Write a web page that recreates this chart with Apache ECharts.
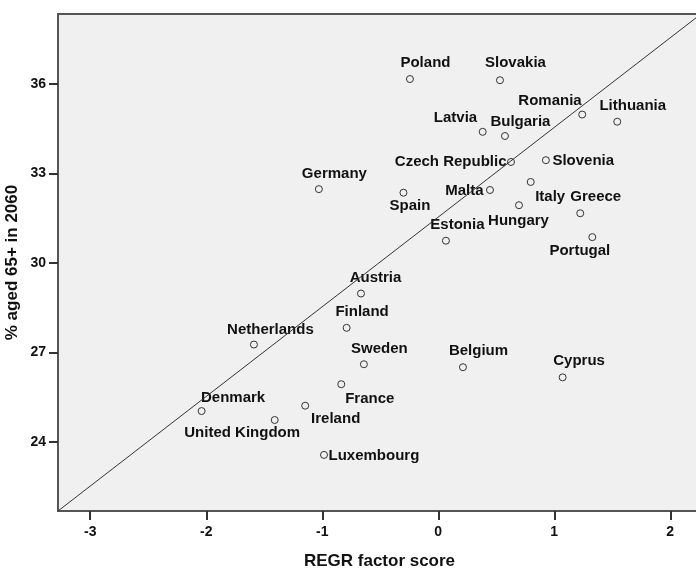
<!DOCTYPE html>
<html>
<head>
<meta charset="utf-8">
<script src="https://cdn.jsdelivr.net/npm/echarts@6/dist/echarts.min.js"></script>
<style>
  html, body { margin: 0; padding: 0; background: #fff; }
  #chart { width: 696px; height: 569px; }
</style>
</head>
<body>
<div id="chart"></div>
<script>
// EU member states: factor score vs projected share of population aged 65+ in 2060
const countries = [
  'Poland', 'Slovakia', 'Romania', 'Lithuania', 'Latvia', 'Bulgaria',
  'Czech Republic', 'Slovenia', 'Italy', 'Malta', 'Spain', 'Hungary',
  'Greece', 'Portugal', 'Estonia', 'Germany', 'Austria', 'Finland',
  'Netherlands', 'Sweden', 'Belgium', 'France', 'Ireland', 'Cyprus',
  'Denmark', 'United Kingdom', 'Luxembourg'
];
const factorScore = [
  -0.244, 0.532, 1.241, 1.543, 0.383, 0.575,
  0.627, 0.928, 0.797, 0.446, -0.300, 0.696,
  1.224, 1.328, 0.066, -1.029, -0.666, -0.790,
  -1.589, -0.641, 0.213, -0.836, -1.147, 1.072,
  -2.040, -1.410, -0.985
];
const aged65 = [
  36.16, 36.12, 34.97, 34.73, 34.39, 34.25,
  33.38, 33.44, 32.71, 32.44, 32.35, 31.93,
  31.66, 30.86, 30.74, 32.47, 28.97, 27.82,
  27.26, 26.60, 26.50, 25.93, 25.21, 26.16,
  25.03, 24.73, 23.56
];
const xTicks = [-3, -2, -1, 0, 1, 2];
const yTicks = [24, 27, 30, 33, 36];

// axis extents
const X_MIN = -3.278, X_MAX = 2.265;
const Y_MIN = 21.68, Y_MAX = 38.34;

// label placement around each marker: [align, dx, dy] from the marker centre
const labelPlacement = {
  'Poland': ['center', 16, -16],
  'Slovakia': ['center', 16, -17],
  'Romania': ['right', 0, -13],
  'Lithuania': ['center', 16, -15],
  'Latvia': ['right', -5, -13],
  'Bulgaria': ['center', 16, -14],
  'Czech Republic': ['right', -4, 0],
  'Slovenia': ['left', 7, 1],
  'Italy': ['center', 20, 15],
  'Malta': ['right', -6, 1],
  'Spain': ['center', 7, 14],
  'Hungary': ['center', 0, 16],
  'Greece': ['center', 16, -16],
  'Portugal': ['center', -12, 14],
  'Estonia': ['center', 12, -15],
  'Germany': ['center', 16, -15],
  'Austria': ['center', 15, -15],
  'Finland': ['center', 16, -15],
  'Netherlands': ['center', 17, -14],
  'Sweden': ['center', 16, -15],
  'Belgium': ['center', 16, -16],
  'France': ['center', 29, 15],
  'Ireland': ['center', 31, 14],
  'Cyprus': ['center', 17, -16],
  'Denmark': ['center', 32, -13],
  'United Kingdom': ['center', -32, 13],
  'Luxembourg': ['left', 5, 1]
};

const FONT = '"Liberation Sans", Arial, sans-serif';
const SYMBOL_SIZE = 7;

const points = countries.map((name, i) => {
  const p = labelPlacement[name];
  return {
    name: name,
    value: [factorScore[i], aged65[i]],
    label: {
      show: true,
      formatter: name,
      position: [SYMBOL_SIZE / 2 + p[1], SYMBOL_SIZE / 2 + p[2]],
      align: p[0],
      verticalAlign: 'middle'
    }
  };
});

const chart = echarts.init(document.getElementById('chart'), null, { renderer: 'canvas' });

chart.setOption({
  backgroundColor: '#ffffff',
  animation: false,
  grid: {
    left: 58, top: 14, right: -5, bottom: 58,
    outerBoundsMode: 'none',
    containLabel: false,
    show: true,
    backgroundColor: '#f0f0f0',
    borderColor: '#555555',
    borderWidth: 2
  },
  xAxis: {
    type: 'value',
    min: X_MIN, max: X_MAX,
    name: 'REGR factor score',
    nameLocation: 'middle',
    nameGap: 42,
    nameMoveOverlap: false,
    nameTextStyle: { fontFamily: FONT, fontWeight: 'bold', fontSize: 17, color: '#111' },
    axisLine: { show: true, onZero: false, lineStyle: { color: '#555555', width: 2 } },
    axisTick: { show: true, customValues: xTicks, length: 9, lineStyle: { color: '#333', width: 2 } },
    axisLabel: {
      customValues: xTicks, margin: 14,
      fontFamily: FONT, fontWeight: 'bold', fontSize: 14, color: '#111',
      formatter: v => String(v)
    },
    splitLine: { show: false }
  },
  yAxis: {
    type: 'value',
    min: Y_MIN, max: Y_MAX,
    name: '% aged 65+ in 2060',
    nameLocation: 'middle',
    nameRotate: 90,
    nameGap: 37,
    nameMoveOverlap: false,
    nameTextStyle: { fontFamily: FONT, fontWeight: 'bold', fontSize: 17, color: '#111' },
    axisLine: { show: true, onZero: false, lineStyle: { color: '#555555', width: 2 } },
    axisTick: { show: true, customValues: yTicks, length: 9, lineStyle: { color: '#333', width: 2 } },
    axisLabel: {
      customValues: yTicks, margin: 12,
      fontFamily: FONT, fontWeight: 'bold', fontSize: 14, color: '#111',
      formatter: v => String(v)
    },
    splitLine: { show: false }
  },
  series: [{
    type: 'scatter',
    data: points,
    symbol: 'circle',
    symbolSize: SYMBOL_SIZE,
    itemStyle: { color: 'rgba(0,0,0,0)', borderColor: '#333333', borderWidth: 1, opacity: 1 },
    label: { fontFamily: FONT, fontWeight: 'bold', fontSize: 15, color: '#111' },
    emphasis: { disabled: true },
    markLine: {
      silent: true,
      symbol: 'none',
      label: { show: false },
      lineStyle: { color: '#333333', width: 1, type: 'solid' },
      data: [[{ coord: [X_MIN, Y_MIN] }, { coord: [X_MAX, Y_MAX] }]]
    }
  }]
});
</script>
</body>
</html>
